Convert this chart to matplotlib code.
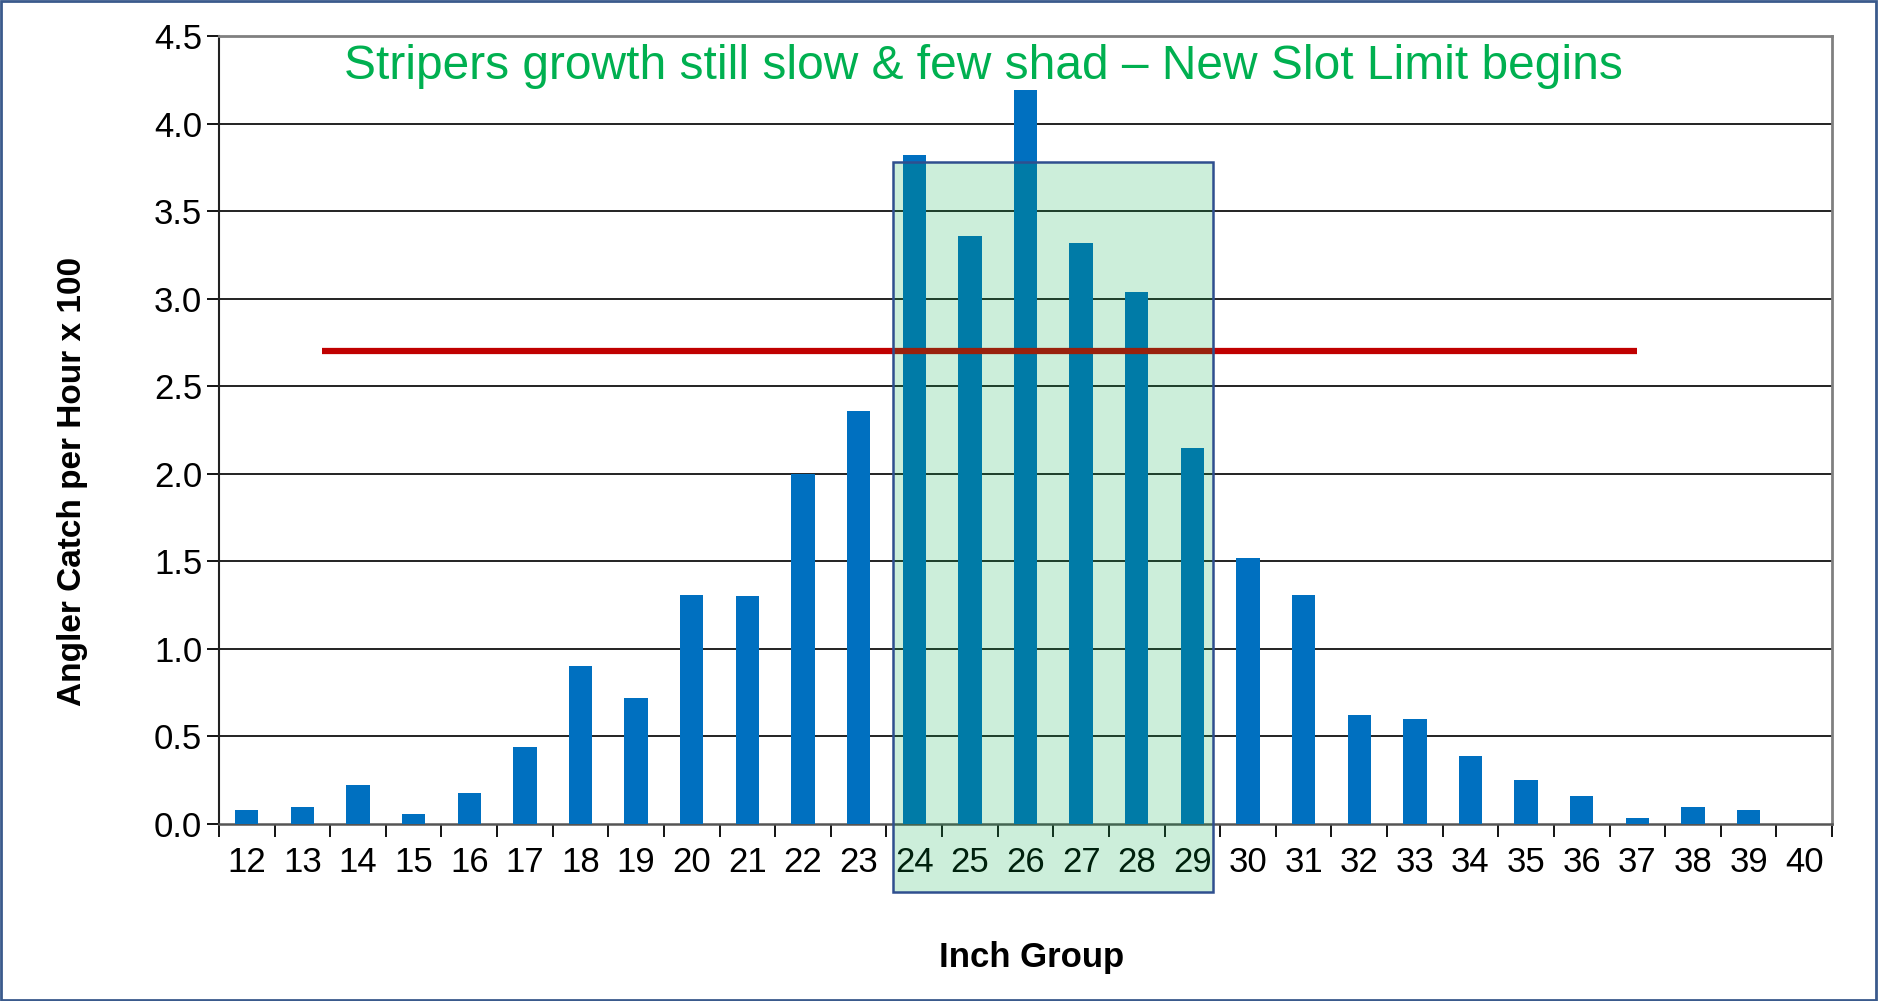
import matplotlib.pyplot as plt
from matplotlib.patches import Rectangle
import numpy as np

plt.rcParams['font.family'] = ['Liberation Sans', 'DejaVu Sans']

inch_groups = [str(i) for i in range(12, 41)]
catch_rate = [0.08, 0.10, 0.22, 0.06, 0.18, 0.44, 0.90, 0.72, 1.31, 1.30,
              2.00, 2.36, 3.82, 3.36, 4.19, 3.32, 3.04, 2.15, 1.52, 1.31,
              0.62, 0.60, 0.39, 0.25, 0.16, 0.035, 0.10, 0.08, 0.0]
avg_level = 2.7
slot_groups = ['24', '29']
title_text = 'Stripers growth still slow & few shad \u2013 New Slot Limit begins'

fig = plt.figure(figsize=(18.78, 10.01), dpi=100)
ax = fig.add_axes([0.1166, 0.1768, 0.8589, 0.7872])

x = np.arange(len(inch_groups))
ax.bar(x, catch_rate, width=0.42, color='#0070C0', zorder=3)

# red reference line
ax.plot([1.36, 25.0], [avg_level, avg_level], color='#C00000', lw=4.5,
        solid_capstyle='butt', zorder=4)

# slot limit box
i0 = inch_groups.index(slot_groups[0])
i1 = inch_groups.index(slot_groups[1])
box = Rectangle((i0 - 0.38, -0.39), (i1 - i0) + 0.76, 3.78 + 0.39,
                facecolor='#00AA46', alpha=0.2, edgecolor='none',
                clip_on=False, zorder=5)
ax.add_patch(box)
edge = Rectangle((i0 - 0.38, -0.39), (i1 - i0) + 0.76, 3.78 + 0.39,
                 facecolor='none', edgecolor='#2F4F8F', lw=1.8,
                 clip_on=False, zorder=6)
ax.add_patch(edge)

ax.set_xlim(-0.5, len(inch_groups) - 0.5)
ax.set_ylim(0, 4.5)
ax.set_yticks(np.arange(0, 4.51, 0.5))
ax.set_yticklabels([f'{v:.1f}' for v in np.arange(0, 4.51, 0.5)])
ax.set_xticks(x)
ax.set_xticklabels(inch_groups)
ax.set_xticks(np.arange(-0.5, len(inch_groups), 1), minor=True)
ax.tick_params(axis='x', which='major', length=0, labelsize=25, pad=16)
ax.tick_params(axis='x', which='minor', length=9, width=1.3, direction='out')
ax.tick_params(axis='y', length=9, width=1.3, labelsize=25, pad=3)

for v in np.arange(0.5, 4.01, 0.5):
    ax.axhline(v, color='#222222', lw=1.4, zorder=1)

for s in ['top', 'right']:
    ax.spines[s].set_color('#808080')
    ax.spines[s].set_linewidth(2)
ax.spines['left'].set_color('#222222')
ax.spines['left'].set_linewidth(1.5)
ax.spines['bottom'].set_color('#555555')
ax.spines['bottom'].set_linewidth(1.8)

ax.set_ylabel('Angler Catch per Hour x 100', fontsize=24, fontweight='bold')
ax.yaxis.set_label_coords(-0.081, 0.435)
ax.set_xlabel('Inch Group', fontsize=25, fontweight='bold')
ax.xaxis.set_label_coords(0.504, -0.148)

ax.text(0.474, 0.99, title_text, transform=ax.transAxes, ha='center',
        va='top', fontsize=34.5, color='#00B050', zorder=7)

# figure border
fig.patches.append(Rectangle((0.0005, 0.001), 0.9985, 0.998,
                             transform=fig.transFigure, fill=False,
                             edgecolor='#3A5A8C', lw=2))

fig.savefig('out.png', dpi=100)
